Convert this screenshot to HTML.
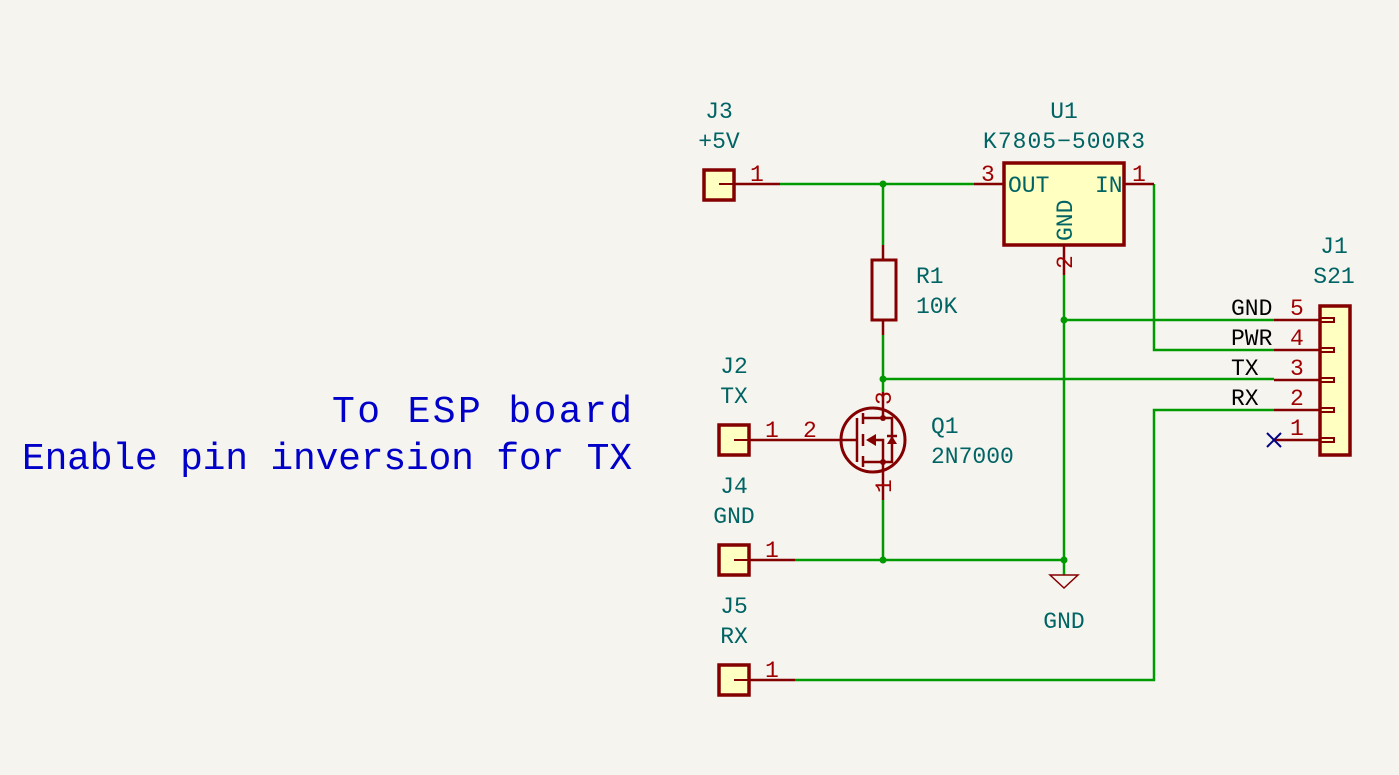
<!DOCTYPE html>
<html><head><style>
body{margin:0;background:#f5f4ef;}
svg{display:block}
text{font-family:"Liberation Mono",monospace;}
</style></head><body>
<svg width="1399" height="775" viewBox="0 0 1399 775" xmlns="http://www.w3.org/2000/svg">
<rect width="1399" height="775" fill="#f5f4ef"/>
<g fill="none" stroke="#009900" stroke-width="2.5">
<polyline points="780,184 974,184"/>
<polyline points="883,184 883,245"/>
<polyline points="883,335 883,392"/>
<polyline points="883,379 1274,379"/>
<polyline points="1154,184 1154,350 1274,350"/>
<polyline points="1064,275 1064,575"/>
<polyline points="1064,320 1274,320"/>
<polyline points="1274,410 1154,410 1154,680 795,680"/>
<polyline points="795,560 1064,560"/>
<polyline points="883,500 883,560"/>
</g>
<g fill="#009900">
<circle cx="883" cy="184" r="3.5"/><circle cx="883" cy="379" r="3.5"/>
<circle cx="1064" cy="320" r="3.5"/><circle cx="883" cy="560" r="3.5"/>
<circle cx="1064" cy="560" r="3.5"/>
</g>
<g fill="none" stroke="#840000" stroke-width="2.5">
<line x1="720" y1="184" x2="780" y2="184"/>
<line x1="974" y1="184" x2="1004" y2="184"/>
<polyline points="1124,184 1154,184"/>
<line x1="1064" y1="245" x2="1064" y2="275"/>
<line x1="883" y1="245" x2="883" y2="260"/>
<line x1="883" y1="320" x2="883" y2="335"/>
<line x1="883" y1="392" x2="883" y2="418"/>
<line x1="883" y1="462" x2="883" y2="500"/>
<line x1="734" y1="440" x2="857" y2="440"/>
<line x1="734" y1="560" x2="795" y2="560"/>
<line x1="734" y1="680" x2="795" y2="680"/>
<line x1="1274" y1="320" x2="1335" y2="320"/>
<line x1="1274" y1="350" x2="1335" y2="350"/>
<line x1="1274" y1="380" x2="1335" y2="380"/>
<line x1="1274" y1="410" x2="1335" y2="410"/>
<line x1="1274" y1="440" x2="1335" y2="440"/>
<rect x="872" y="260" width="24" height="60" stroke-width="3"/>
<circle cx="873" cy="440" r="32" stroke-width="3"/>
<line x1="857" y1="418" x2="857" y2="462"/>
<line x1="863" y1="413" x2="863" y2="424"/>
<line x1="863" y1="434" x2="863" y2="446"/>
<line x1="863" y1="456" x2="863" y2="467"/>
<polyline points="863,418 892,418 892,462 863,462"/>
<polyline points="870,440 883,440 883,462"/>
<line x1="887" y1="436" x2="897" y2="436"/>
</g>
<g fill="#840000">
<polygon points="866,440 876,434 876,446"/>
<polygon points="887,444 897,444 892,436"/>
<circle cx="883" cy="418" r="3"/><circle cx="883" cy="462" r="3"/>
</g>
<g fill="#ffffc2" stroke="#840000" stroke-width="3.5">
<rect x="704" y="170" width="30" height="30"/>
<rect x="719" y="425" width="30" height="30"/>
<rect x="719" y="545" width="30" height="30"/>
<rect x="719" y="665" width="30" height="30"/>
<rect x="1004" y="163" width="120" height="82"/>
<rect x="1320" y="306" width="30" height="149"/>
</g>
<g stroke="#840000" stroke-width="2" fill="none">
<line x1="719" y1="184" x2="734" y2="184"/>
<line x1="734" y1="440" x2="749" y2="440"/>
<line x1="734" y1="560" x2="749" y2="560"/>
<line x1="734" y1="680" x2="749" y2="680"/>
<rect x="1320" y="318" width="14" height="4"/><rect x="1320" y="348" width="14" height="4"/>
<rect x="1320" y="378" width="14" height="4"/><rect x="1320" y="408" width="14" height="4"/>
<rect x="1320" y="438" width="14" height="4"/>
</g>
<g stroke="#840000" stroke-width="1.5" fill="none">
<polygon points="1050,575 1078,575 1064,588"/>
</g>
<g stroke="#000084" stroke-width="2"><line x1="1267" y1="433" x2="1281" y2="447"/><line x1="1281" y1="433" x2="1267" y2="447"/></g>
<g fill="#006464" font-size="23">
<text x="719" y="118" text-anchor="middle">J3</text>
<text x="719" y="148" text-anchor="middle">+5V</text>
<text x="1064" y="118" text-anchor="middle">U1</text>
<text x="1064" y="148" text-anchor="middle" textLength="162">K7805−500R3</text>
<text x="1008" y="192">OUT</text>
<text x="1095" y="192">IN</text>
<text transform="translate(1072,241) rotate(-90)">GND</text>
<text x="916" y="283">R1</text>
<text x="916" y="313">10K</text>
<text x="734" y="373" text-anchor="middle">J2</text>
<text x="734" y="403" text-anchor="middle">TX</text>
<text x="931" y="433">Q1</text>
<text x="931" y="463">2N7000</text>
<text x="734" y="493" text-anchor="middle">J4</text>
<text x="734" y="523" text-anchor="middle">GND</text>
<text x="734" y="613" text-anchor="middle">J5</text>
<text x="734" y="643" text-anchor="middle">RX</text>
<text x="1064" y="628" text-anchor="middle">GND</text>
<text x="1334" y="253" text-anchor="middle">J1</text>
<text x="1334" y="283" text-anchor="middle">S21</text>
</g>
<g fill="#000" font-size="23">
<text x="1231" y="315">GND</text><text x="1231" y="345">PWR</text>
<text x="1231" y="375">TX</text><text x="1231" y="405">RX</text>
</g>
<g fill="#a00000" font-size="23">
<text x="750" y="181">1</text><text x="981" y="181">3</text><text x="1132" y="181">1</text>
<text transform="translate(1072,269) rotate(-90)">2</text>
<text x="765" y="437">1</text><text x="803" y="437">2</text>
<text transform="translate(891,405) rotate(-90)">3</text>
<text transform="translate(891,493) rotate(-90)">1</text>
<text x="765" y="557">1</text><text x="765" y="677">1</text>
<text x="1290" y="315">5</text><text x="1290" y="345">4</text><text x="1290" y="375">3</text>
<text x="1290" y="405">2</text><text x="1290" y="435">1</text>
</g>
<g fill="#0000c8" font-size="38" text-anchor="end">
<text x="632" y="422" textLength="300">To ESP board</text>
<text x="632" y="469" textLength="610">Enable pin inversion for TX</text>
</g>
</svg>
</body></html>
